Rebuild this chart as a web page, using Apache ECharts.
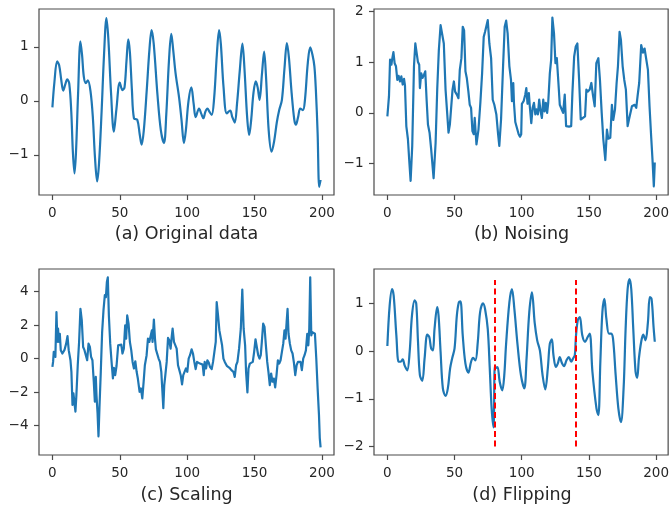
<!DOCTYPE html>
<html>
<head>
<meta charset="utf-8">
<script src="https://cdn.jsdelivr.net/npm/echarts@6/dist/echarts.min.js"></script>
<style>html,body{margin:0;padding:0;background:#fff}#c{width:672px;height:513px}</style>
</head>
<body>
<div id="c"></div>
<script>
// ---- data ----
const xTicks = [0, 50, 100, 150, 200];
const yTicksA = [-1, 0, 1];
const yTicksB = [-1, 0, 1, 2];
const yTicksC = [-4, -2, 0, 2, 4];
const yTicksD = [-2, -1, 0, 1];
const captions = ['(a) Original data', '(b) Noising', '(c) Scaling', '(d) Flipping'];
const flipX = [80, 140];
const flipY = [-2, 1.5];

const aX = [0,1.5,3.5,5,6.5,8,9.5,11,12.5,14,15.2,16.4,17.5,19,20.8,22,23.3,24.8,26.3,28.3,30,31.6,33.2,34.6,36.5,38.3,40.1,41.5,43.5,45.6,47.5,50,52,53.5,55,56.3,57.5,59,60.5,63,64.8,66.2,67.8,70,72,73.6,75.2,78,80.5,82.8,84.5,86.5,88.2,89.6,91.4,94,95.8,97.6,99,101,103.1,104.8,106.3,108.8,110.5,112,113.5,115,116.5,118.2,120,122,123.7,125,127,129.4,131.9,133.5,135.3,137,139,141,142.5,144.5,146,147.5,149.2,150.9,152.3,153.7,155.5,157.1,158.5,160.5,162.6,164.5,166.5,168.3,170.3,172.2,174,175.5,177.5,179.5,180.7,182.3,183.9,185.9,187.4,189.5,191.3,193,194.4,195.5,196.8,198,199];
const aY = [-0.12,0.35,0.73,0.66,0.40,0.19,0.30,0.40,0.32,-0.2,-0.95,-1.34,-0.95,0.1,1.10,0.85,0.45,0.33,0.38,0.17,-0.3,-1.05,-1.49,-1.15,-0.2,0.85,1.53,1.15,0.15,-0.57,-0.15,0.34,0.20,0.25,0.75,1.14,0.9,0.2,-0.32,-0.35,-0.62,-0.81,-0.55,0.2,0.95,1.31,1.05,0.1,-0.55,-0.78,-0.25,0.75,1.24,0.95,0.51,0.06,-0.35,-0.78,-0.55,0.0,0.25,-0.05,-0.30,-0.14,-0.24,-0.32,-0.2,-0.14,-0.2,-0.26,0.05,0.85,1.31,1.05,0.25,-0.23,-0.18,-0.3,-0.40,-0.05,0.55,1.06,0.6,-0.3,-0.63,-0.35,0.15,0.36,0.25,0.02,0.5,0.91,0.45,-0.55,-0.94,-0.75,-0.4,-0.17,0.02,0.6,1.07,0.8,0.15,-0.35,-0.44,-0.3,-0.14,-0.17,0.02,0.7,0.99,0.85,0.64,0.2,-0.6,-1.59,-1.46];

const bX = [0,1.2,2,3,3.5,4.5,5.4,6.4,7.4,8.4,9.4,10.4,11.4,12.4,13.1,14.1,15.3,16.3,17.3,18.5,19.8,20.8,21.8,22.7,23.7,24.2,25.2,26.2,27.2,28.2,29.2,30.2,31.4,32.6,34.4,35.9,37.1,38.3,39.6,40.8,42,43.3,44.5,45.5,46.5,47.5,48.5,49.5,50.4,51.7,52.9,53.9,55.1,56.1,57.1,58.1,59.1,60.3,61.3,62.3,63.3,64.3,65,66.3,67.8,69.2,70.5,71.7,72.7,73.7,74.7,75.9,77.2,78.4,79.6,81.1,82.4,83.3,84.6,86.1,87.3,88.4,89.5,90.8,92,92.7,93.7,94.2,95.2,96.2,97.7,98.7,99.6,100.1,101.4,102.6,103.4,104.3,105.3,106,107.1,108.1,109.1,110.1,110.9,112,113,114,115,116,117,117.9,118.9,119.7,120.9,121.9,122.8,124,125.1,126.1,127.3,128.3,129.6,130.8,132,133,135.2,136.8,137.7,139,140.2,141.4,142.7,143.9,145.1,147.1,148.1,149.1,150.6,151.8,153.1,154.3,155.5,157,158.2,159.5,160.7,162.2,163.4,164.4,165.9,167.1,168.1,169.4,170.6,171.6,172.8,173.8,175.1,176.3,177.5,178.8,179.8,181,182,183,184,185.2,186.2,187.4,188.9,190.2,191.4,192.6,193.9,195.1,196.3,197.3,198.3,199];
const bY = [-0.07,0.33,1.05,0.95,1.05,1.2,0.98,0.92,0.65,0.73,0.62,0.72,0.56,0.67,0.54,-0.26,-0.52,-0.95,-1.34,-0.65,0.92,1.37,1.39,1.01,0.95,0.49,0.78,0.69,0.75,0.82,0.26,-0.23,-0.39,-0.72,-1.29,-0.59,0.46,1.24,1.73,1.75,1.37,0.46,0,-0.39,-0.23,-0.26,0.46,0.62,0.42,0.36,0.29,0.85,1.08,1.70,1.63,0.82,0.69,0.42,0.16,0.10,-0.36,-0.42,-0.1,-0.62,-0.33,0.2,0.78,1.5,1.6,1.6,1.83,1.37,1.08,0.26,0.16,-0.03,-0.42,-0.65,-0.13,0.92,1.70,1.82,1.57,0.92,0.65,0.23,0.59,0.2,-0.18,-0.21,-0.42,-0.47,-0.42,0.18,0.23,0.36,0.49,0.18,0.39,0.13,-0.2,0.1,0.2,-0.03,0.07,-0.03,0.26,0.03,-0.1,0.26,0.03,0.2,0,0.2,0.78,1.05,1.88,1.57,0.98,1.08,0.59,0.16,0.13,0,0.36,-0.26,-0.27,-0.26,0.39,1.11,1.31,1.37,0.65,-0.13,-0.12,-0.07,0.46,0.42,0.46,0.59,0.33,0.13,0.98,1.08,0.65,0,-0.52,-0.93,-0.33,-0.51,-0.49,0.16,-0.14,0.07,0.59,0.92,1.6,1.44,0.92,0.65,0.46,-0.26,-0.13,-0.13,0.13,0.1,0.16,0.1,0.33,0.59,1.34,1.19,1.27,1.27,0.85,0.13,-0.46,-0.92,-1.45,-0.98];

const cX = [0,0.5,1,1.7,2.2,3,3.7,4.2,4.7,5.5,6.2,7.4,8.9,10.2,11.2,12.1,13.4,14.1,14.9,15.6,16.4,17.1,17.8,18.8,19.8,20.8,21.8,22.8,23.8,24.8,25.8,26.8,27.8,28.7,29.7,30.7,31.5,32.2,32.7,33.5,34.2,34.9,35.9,36.9,37.9,38.9,39.7,40.4,41.1,41.9,42.9,43.9,44.9,45.6,46.6,47.6,48.8,50.1,51.1,52,53,54,54.7,55.5,56.5,57.5,58.5,59.5,60.5,61.5,62.5,63.4,64.7,65.7,66.7,67.7,68.6,69.9,70.9,71.9,72.9,73.8,74.3,75.3,76.1,76.8,77.8,78.8,79.8,80.8,81.5,82.3,83,83.8,84.8,85.8,86.7,87.7,88.5,89.2,90.2,91.2,92.2,93.2,94.2,95.2,96.2,97.1,98.1,99.1,100.1,101.1,102.1,103.3,104.3,105.3,106.3,107.3,108.3,109.5,110.5,111.5,112.3,113,114,115,116,116.9,118.2,119.2,120.2,121.2,121.9,122.9,123.9,124.9,125.9,126.9,127.9,129.4,131.4,132.8,134.3,135.3,136.3,137.3,138.5,139.8,140.9,141.9,143,143.7,144.7,145.5,146.5,147.7,148.7,149.7,150.7,151.7,152.7,153.7,154.6,155.4,156.4,157.4,158.4,159.4,160.3,161.3,162.3,163.3,164.3,165.3,166.3,167.3,168.3,169.3,170.3,171.3,172.2,173,173.8,174.5,175.2,176.2,177.2,178.2,179.2,180.2,181.2,182.2,183.2,184.1,185.1,186.1,187.1,188.1,189.1,189.9,190.6,191.3,192.1,192.8,193.8,194.8,195.8,196.8,197.8,198.4,199];
const cY = [-0.49,-0.2,0.4,0.3,0.1,2.77,1.0,1.78,1.0,1.48,0.5,0.3,0.5,0.89,1.34,0.5,-0.1,-0.79,-2.77,-2.07,-2.67,-3.16,-2.17,-0.4,0.99,2.96,2.27,0.69,0.5,0.59,-0.1,0.89,0.69,0.1,-0.1,-1.38,-2.57,-1.09,-2.17,-3.26,-4.64,-2.96,-0.79,1.58,2.87,3.79,3.66,4.55,4.84,2.57,0.89,-0.2,-1.19,-0.55,-0.99,-0.43,0.79,0.89,0.83,0.3,0.59,1.98,1.19,2.57,2.08,0.99,0.5,-0.2,-0.59,-0.16,-0.79,-1.19,-1.98,-1.78,-2.37,-1.38,-0.4,0.2,1.19,0.99,1.09,1.68,0.99,2.33,1.19,0.55,0.55,0,-0.2,-0.79,-1.78,-2.96,-1.58,-0.99,-0.2,1.23,1.09,0.59,1.28,1.78,0.99,1.09,0.59,-0.4,-0.69,-0.99,-1.54,-0.99,-1.09,-0.59,-0.79,0,0.2,0.55,0.3,-0.2,-0.63,-0.2,-0.16,-0.3,-0.4,-0.36,-0.99,-0.2,-0.59,-0.1,-0.24,-0.49,-0.63,-0.2,0.4,0.99,3.36,2.57,1.68,1.58,0.79,0,-0.2,-0.43,-0.55,-0.69,-0.79,-1.09,-0.4,-0.2,0.59,1.78,4.11,1.78,0.79,-0.79,-2.02,-0.59,-0.3,-0.4,-0.2,0.4,1.15,1.09,0.2,0,0.2,0.99,2.08,1.88,0.79,-0.2,-0.79,-1.58,-0.89,-1.38,-1.19,-1.72,-0.99,-0.1,-0.3,-0.1,0.4,0.89,1.68,1.19,2.17,2.96,1.48,0.89,0.49,0.3,-0.24,-0.99,-0.4,-0.2,-0.14,-0.2,-0.69,0,0.2,0.49,1.48,0.79,1.78,4.84,1.38,1.58,1.48,1.48,0,-1.78,-3.36,-4.74,-5.3];

const dX = [0,1.7,3.5,4.7,6.7,8.4,9.9,11.4,12.9,14.8,16.6,18.3,20.3,21.5,22.8,24.2,26,27.7,29.7,31.2,32.6,33.9,35.1,37.1,38.1,39.6,41.3,43.3,45,46.7,48.2,50,51.7,53.2,54.4,56.1,58.1,60.3,62.3,63.8,65.5,67.3,69,71.2,72.7,74.7,76.2,77.6,79,80,81,82,83.6,85.5,87,88.3,90.8,92.7,94.5,96.9,99.4,101.9,103.6,105.6,107.6,109.6,111.5,113.5,115.5,117.5,119.4,120.9,122.4,123.6,125.4,126.8,128.3,129.8,131.5,133.3,135,136.8,138.2,139.5,140.3,141.7,143.2,145.1,147.1,149.1,150.6,152.6,155.6,157,158.5,160,161.5,163,164.9,166.4,167.9,169.9,171.9,173.8,175.8,177.3,178.8,180.2,181.5,183,184.7,185.9,187.2,188.9,190.4,192.1,193.9,195.3,196.6,198.1,199];
const dY = [0.11,0.96,1.31,1.17,0.33,-0.22,-0.22,-0.17,-0.30,-0.40,-0.01,0.75,1.07,1.0,0.2,-0.5,-0.62,-0.15,0.35,0.30,0.06,0.02,0.47,0.93,0.75,-0.01,-0.78,-0.94,-0.78,-0.36,-0.15,0.06,0.75,1.03,1.05,0.33,-0.26,-0.45,-0.22,-0.14,-0.19,0.2,0.82,1.01,0.89,0.47,-0.36,-1.2,-1.6,-0.3,-0.35,-0.33,-0.64,-0.82,-0.5,0.13,1.03,1.31,0.89,0.13,-0.5,-0.78,-0.15,0.82,1.24,0.61,0.23,0.02,-0.5,-0.8,-0.36,0.16,0.25,-0.08,-0.33,-0.26,-0.12,-0.24,-0.31,-0.19,-0.12,-0.22,-0.15,-0.08,0.3,0.65,0.72,0.33,0.2,0.3,0.37,-0.43,-1.2,-1.34,-0.22,0.82,1.1,0.68,0.37,0.37,0.27,-0.5,-1.2,-1.49,-0.78,0.47,1.31,1.52,1.31,0.47,-0.43,-0.56,-0.15,0.2,0.35,0.23,0.61,1.14,1.1,0.51,0.2];

// ---- chart ----
const zip = (xs, ys) => xs.map((x, i) => [x, ys[i]]);
const BLUE = '#1f77b4', SPINE = '#4a4a4a', TXT = '#262626';
const FONT = 'DejaVu Sans';
const grids = [
  {left: 39, top: 9, width: 295, height: 186},
  {left: 374, top: 9, width: 295, height: 186},
  {left: 39, top: 269, width: 295, height: 186},
  {left: 374, top: 269, width: 296, height: 186}
];
const yRanges = [[-1.74, 1.70], [-1.62, 2.05], [-5.75, 5.34], [-2.18, 1.73]];
const yTicks = [yTicksA, yTicksB, yTicksC, yTicksD];
const fmt = v => (v < 0 ? '\u2212' + Math.abs(v) : String(v));

const option = {
  animation: false,
  backgroundColor: '#fff',
  grid: grids.map(g => Object.assign({show: true, borderColor: SPINE, borderWidth: 1.2, backgroundColor: 'transparent'}, g)),
  xAxis: grids.map((g, i) => ({
    type: 'value', gridIndex: i, min: -9.95, max: 208.95, position: 'bottom',
    axisLine: {show: false, onZero: false}, splitLine: {show: false},
    axisTick: {show: true, inside: false, length: 5, lineStyle: {color: SPINE, width: 1.2}, customValues: xTicks},
    axisLabel: {show: true, margin: 11, color: TXT, fontFamily: FONT, fontSize: 13.5, customValues: xTicks, formatter: fmt}
  })),
  yAxis: grids.map((g, i) => ({
    type: 'value', gridIndex: i, min: yRanges[i][0], max: yRanges[i][1], position: 'left',
    axisLine: {show: false, onZero: false}, splitLine: {show: false},
    axisTick: {show: true, inside: false, length: 5, lineStyle: {color: SPINE, width: 1.2}, customValues: yTicks[i]},
    axisLabel: {show: true, margin: 10.5, color: TXT, fontFamily: FONT, fontSize: 13.5, customValues: yTicks[i], formatter: fmt}
  })),
  series: [
    {type: 'line', xAxisIndex: 0, yAxisIndex: 0, data: zip(aX, aY), smooth: 0.35, showSymbol: false, lineStyle: {color: BLUE, width: 2.2}},
    {type: 'line', xAxisIndex: 1, yAxisIndex: 1, data: zip(bX, bY), showSymbol: false, lineStyle: {color: BLUE, width: 2.2, join: 'round'}},
    {type: 'line', xAxisIndex: 2, yAxisIndex: 2, data: zip(cX, cY), showSymbol: false, lineStyle: {color: BLUE, width: 2.2, join: 'round'}},
    {type: 'line', xAxisIndex: 3, yAxisIndex: 3, data: zip(dX, dY), smooth: 0.35, showSymbol: false, lineStyle: {color: BLUE, width: 2.2},
      markLine: {silent: true, symbol: 'none', animation: false, label: {show: false},
        lineStyle: {color: '#ff0000', width: 2, type: [6, 3.5]},
        data: flipX.map(x => [{coord: [x, flipY[0]]}, {coord: [x, flipY[1]]}])}}
  ],
  graphic: captions.map((t, i) => ({
    type: 'text', x: grids[i].left + grids[i].width / 2, y: (i < 2 ? 234.5 : 495.5),
    style: {text: t, fontFamily: FONT, fontSize: 17.5, fill: TXT, align: 'center', verticalAlign: 'middle'}
  }))
};
const chart = echarts.init(document.getElementById('c'), null, {renderer: 'canvas'});
chart.setOption(option);
</script>
</body>
</html>
